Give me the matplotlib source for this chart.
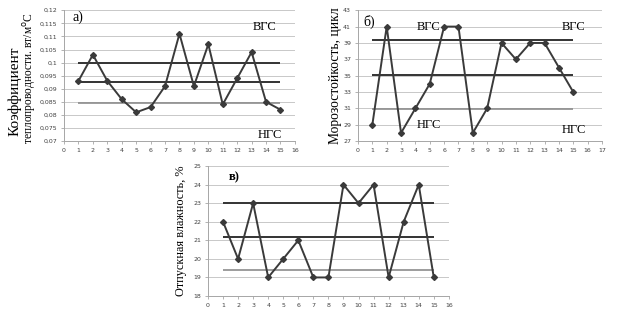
import matplotlib.pyplot as plt

plt.rcParams['font.family'] = ['Liberation Serif', 'DejaVu Serif']

# Sample numbers
x = list(range(1, 16))

# a) thermal conductivity
cond = [0.093, 0.103, 0.093, 0.086, 0.081, 0.083, 0.091, 0.111, 0.091, 0.107,
        0.084, 0.094, 0.104, 0.085, 0.082]
cond_lim = [0.1, 0.0925, 0.0847]  # ВГС, mean, НГС
cond_ticks = [0.07, 0.075, 0.08, 0.085, 0.09, 0.095, 0.1, 0.105, 0.11, 0.115, 0.12]
cond_labels = ['0,07', '0,075', '0,08', '0,085', '0,09', '0,095', '0,1',
               '0,105', '0,11', '0,115', '0,12']

# б) frost resistance
frost = [29, 41, 28, 31, 34, 41, 41, 28, 31, 39, 37, 39, 39, 36, 33]
frost_lim = [39.4, 35.1, 30.9]
frost_ticks = [27, 29, 31, 33, 35, 37, 39, 41, 43]

# в) moisture
moist = [22, 20, 23, 19, 20, 21, 19, 19, 24, 23, 24, 19, 22, 24, 19]
moist_lim = [23.0, 21.2, 19.4]
moist_ticks = [18, 19, 20, 21, 22, 23, 24, 25]

fig = plt.figure(figsize=(6.24, 3.2), dpi=100)
ax_a = fig.add_axes([0.1026, 0.559, 0.370, 0.409])
ax_b = fig.add_axes([0.5737, 0.559, 0.391, 0.409])
ax_c = fig.add_axes([0.3333, 0.075, 0.386, 0.406])


def style(ax, vals, lims, yticks, ylabels, xmax):
    ax.plot(x, vals, color='#3a3a3a', lw=1.4, marker='D', ms=3.0, zorder=4)
    ax.hlines(lims[0], 1, 15, color='#333333', lw=1.4, zorder=3)
    ax.hlines(lims[1], 1, 15, color='#333333', lw=1.4, zorder=3)
    ax.hlines(lims[2], 1, 15, color='#8c8c8c', lw=1.2, zorder=3)
    ax.set_ylim(yticks[0], yticks[-1])
    ax.set_yticks(yticks)
    ax.set_yticklabels(ylabels)
    ax.set_xlim(0, xmax)
    ax.set_xticks(range(0, xmax + 1))
    ax.grid(axis='y', color='#c8c8c8', lw=0.7, zorder=0)
    for s in ['top', 'right']:
        ax.spines[s].set_visible(False)
    for s in ['left', 'bottom']:
        ax.spines[s].set_color('#a6a6a6')
        ax.spines[s].set_linewidth(0.7)
    ax.tick_params(labelsize=4.5, colors='#a6a6a6', labelcolor='#404040',
                   length=2, width=0.6, pad=3)
    for lab in ax.get_xticklabels() + ax.get_yticklabels():
        lab.set_family('DejaVu Sans')


style(ax_a, cond, cond_lim, cond_ticks, cond_labels, 16)
# two-line y label, first line bigger than the second
fig.text(15 / 624, 0.716, 'Коэффициент', fontsize=11, rotation=90,
         ha='center', va='center')
fig.text(30 / 624, 0.756, 'теплопроводности. вт/м$^{\\rm o}$С', fontsize=8.3,
         rotation=90, ha='center', va='center')
ax_a.text(0.6, 0.1172, 'а)', fontsize=10, va='center')
ax_a.text(13.1, 0.1135, 'ВГС', fontsize=9, va='center')
ax_a.text(13.4, 0.0723, 'НГС', fontsize=9, va='center')

style(ax_b, frost, frost_lim, frost_ticks, [str(t) for t in frost_ticks], 17)
ax_b.set_ylabel('Морозостойкость, цикл', fontsize=9.8, labelpad=1)
ax_b.text(0.35, 41.6, 'б)', fontsize=10, va='center')
ax_b.text(4.1, 40.9, 'ВГС', fontsize=9, va='center')
ax_b.text(14.2, 40.9, 'ВГС', fontsize=9, va='center')
ax_b.text(4.1, 28.95, 'НГС', fontsize=9, va='center')
ax_b.text(14.2, 28.4, 'НГС', fontsize=9, va='center')

style(ax_c, moist, moist_lim, moist_ticks, [str(t) for t in moist_ticks], 16)
ax_c.set_ylabel('Отпускная влажность, %', fontsize=8.8, labelpad=4)
ax_c.text(1.35, 24.4, 'в)', fontsize=9, fontweight='bold', va='center')

fig.savefig('out.png', dpi=100)
